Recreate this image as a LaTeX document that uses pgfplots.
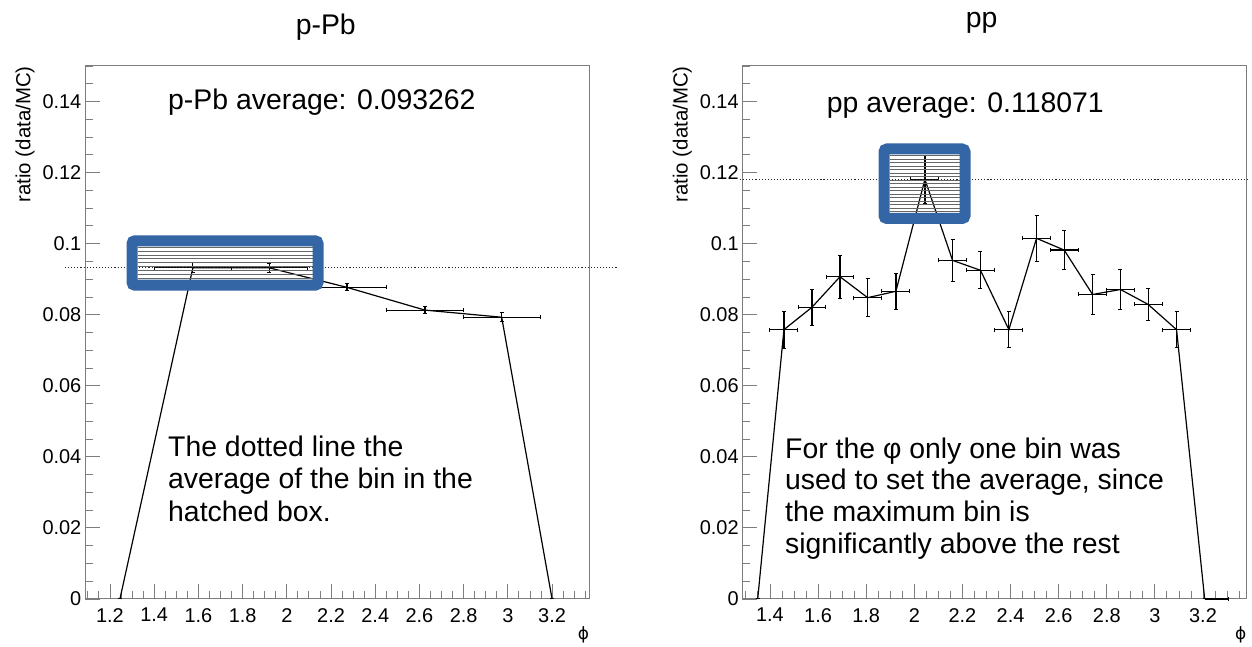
\documentclass[border=0pt]{standalone}
\usepackage{fontspec}
\setmainfont{Liberation Sans}
\newfontfamily\dejavu{DejaVu Sans}
\usepackage{pgfplots}
\pgfplotsset{compat=1.18}
\definecolor{boxblue}{RGB}{52,101,164}
\definecolor{framegray}{RGB}{125,125,125}
\pgfplotsset{rootstyle/.style={
  scale only axis, width=504bp, height=533bp, anchor=south west,
  ymin=0, ymax=0.15,
  ytick={0,0.02,0.04,0.06,0.08,0.1,0.12,0.14},
  minor ytick={0,0.005,...,0.1501},
  scaled ticks=false,
  tick align=inside, xtick pos=left, ytick pos=left,
  major tick length=15bp, minor tick length=8bp,
  tick style={framegray, line width=0.9bp},
  axis line style={framegray, line width=1bp},
  clip=false,
  tick label style={font=\fontsize{20}{24}\selectfont},
  /pgf/number format/fixed,
  /pgf/number format/precision=3,
  /pgf/number format/assume math mode=true,
  xticklabel style={inner sep=0pt, anchor=north, yshift=-9bp},
  yticklabel style={inner sep=0pt, anchor=east, xshift=-3.5bp},
  ylabel={ratio (data/MC)},
  ylabel style={at={(axis description cs:-0.119,1)}, anchor=east, font=\fontsize{20.5}{24}\selectfont, inner sep=0pt},
  xlabel={\dejavu ϕ},
  xlabel style={at={(axis description cs:0.989,-0.0675)}, anchor=center, font=\fontsize{17}{20}\selectfont, inner sep=0pt},
}}
\pgfplotsset{datastyle/.style={black, line width=1.2bp, mark=none,
  error bars/.cd, x dir=both, x explicit, y dir=both, y explicit,
  error bar style={line width=1.2bp},
  error mark options={rotate=90, mark size=2bp, line width=1bp}}}
\begin{document}
\begin{tikzpicture}
\path[use as bounding box] (0,0) rectangle (1252bp,647bp);
% ---------------- left: p-Pb
\begin{axis}[rootstyle, at={(85bp,48bp)}, xmin=1.087, xmax=3.367,
  xtick={1.2,1.4,1.6,1.8,2,2.2,2.4,2.6,2.8,3,3.2},
  minor xtick={1.1,1.15,...,3.36}]
\addplot[datastyle] coordinates {
  (1.245,0) +- (0,0)
  (1.575,0.0932) +- (0.175,0.0014)
  (1.920,0.0932) +- (0.172,0.0013)
  (2.272,0.0877) +- (0.177,0.0010)
  (2.625,0.0813) +- (0.175,0.0010)
  (2.972,0.0793) +- (0.175,0.0012)
  (3.200,0) +- (0,0)
};
\addplot[black!85, dotted, line width=1.1bp] coordinates {(0.9964,0.093262) (3.4986,0.093262)};
\end{axis}
% ---------------- right: pp
\begin{axis}[rootstyle, at={(742.3bp,48bp)}, xmin=1.285, xmax=3.380,
  xtick={1.4,1.6,1.8,2,2.2,2.4,2.6,2.8,3,3.2},
  minor xtick={1.3,1.35,...,3.38}]
\addplot[datastyle] coordinates {
  (1.349,0) +- (0,0)
  (1.458,0.0758) +- (0.058,0.0052)
  (1.5745,0.0821) +- (0.058,0.0051)
  (1.691,0.0907) +- (0.058,0.0060)
  (1.806,0.0848) +- (0.058,0.0054)
  (1.9235,0.0866) +- (0.058,0.0051)
  (2.044,0.1181) +- (0.058,0.0068)
  (2.159,0.0953) +- (0.058,0.0059)
  (2.275,0.0925) +- (0.058,0.0052)
  (2.393,0.0758) +- (0.058,0.0051)
  (2.508,0.1015) +- (0.058,0.0064)
  (2.623,0.0982) +- (0.058,0.0054)
  (2.741,0.0857) +- (0.058,0.0056)
  (2.857,0.0871) +- (0.058,0.0057)
  (2.972,0.0829) +- (0.058,0.0045)
  (3.090,0.0758) +- (0.058,0.0051)
  (3.207,0) += (0.1,0) -= (0,0)
};
\addplot[black!85, dotted, line width=1.1bp] coordinates {(1.2754,0.118071) (3.394,0.118071)};
\end{axis}
% ---------------- hatched boxes
\foreach \k in {0,...,8} {
  \draw[black!60, line width=1bp] (137.5bp,368.5bp+\k*3.9bp) -- (312.5bp,368.5bp+\k*3.9bp);
}
\draw[boxblue, line width=11bp, rounded corners=3bp] (132bp,361.8bp) rectangle (318bp,406.2bp);
\foreach \k in {0,...,16} {
  \draw[black!60, line width=1bp] (889.5bp,435bp+\k*3.5bp) -- (959.5bp,435bp+\k*3.5bp);
}
\draw[boxblue, line width=11bp, rounded corners=3bp] (884bp,428.5bp) rectangle (965bp,498bp);
% ---------------- titles and texts
\tikzset{big/.style={inner sep=0pt, font=\fontsize{28.5}{32}\selectfont}}
\node[big, anchor=base] at (325.8bp,612.7bp) {p-Pb};
\node[big, anchor=base] at (981.7bp,619bp) {pp};
\node[big, anchor=base west] at (168bp,537bp) {p-Pb average: 0.093262};
\node[big, anchor=base west] at (826.7bp,534.3bp) {pp average: 0.118071};
\node[big, anchor=base west] at (168bp,190.3bp) {The dotted line the};
\node[big, anchor=base west] at (168bp,158.7bp) {average of the bin in the};
\node[big, anchor=base west] at (168bp,125.3bp) {hatched box.};
\node[big, anchor=base west] at (785bp,188.7bp) {For the φ only one bin was};
\node[big, anchor=base west] at (785bp,157bp) {used to set the average, since};
\node[big, anchor=base west] at (785bp,125.3bp) {the maximum bin is};
\node[big, anchor=base west] at (785bp,93.7bp) {significantly above the rest};
\end{tikzpicture}
\end{document}
